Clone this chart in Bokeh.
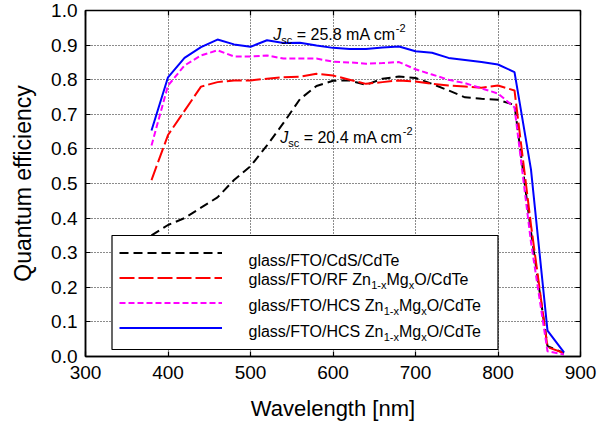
from bokeh.plotting import figure
from bokeh.models import (Range1d, FixedTicker, NumeralTickFormatter, LinearAxis,
                          Legend, LegendItem, Label, BoxAnnotation)
from bokeh.embed import file_html
from bokeh.resources import INLINE

# ---------------- data ----------------
wavelength = [380, 400, 420, 440, 460, 480, 500, 520, 540, 560, 580, 600, 620,
              640, 660, 680, 700, 720, 740, 760, 780, 800, 820, 840, 860, 880]

qe_cds = [0.35, 0.38, 0.40, 0.43, 0.46, 0.51, 0.55, 0.61, 0.675, 0.744, 0.782, 0.797, 0.798,
          0.785, 0.803, 0.809, 0.805, 0.788, 0.769, 0.749, 0.745, 0.742, 0.727, 0.36, 0.03, 0.01]

qe_rf = [0.51, 0.64, 0.71, 0.78, 0.793, 0.798, 0.798, 0.803, 0.807, 0.809, 0.817, 0.812, 0.80,
         0.788, 0.793, 0.798, 0.795, 0.788, 0.783, 0.780, 0.777, 0.783, 0.769, 0.38, 0.027, 0.01]

qe_hcs_a = [0.61, 0.783, 0.841, 0.87, 0.885, 0.867, 0.867, 0.87, 0.861, 0.861, 0.861, 0.852, 0.85,
            0.846, 0.848, 0.851, 0.83, 0.815, 0.80, 0.79, 0.775, 0.76, 0.72, 0.33, 0.015, 0.006]

qe_hcs_b = [0.653, 0.807, 0.863, 0.894, 0.916, 0.902, 0.895, 0.914, 0.906, 0.907, 0.899, 0.892, 0.889,
            0.889, 0.893, 0.896, 0.882, 0.878, 0.863, 0.857, 0.851, 0.844, 0.822, 0.54, 0.075, 0.012]

x_ticks = [300, 400, 500, 600, 700, 800, 900]
y_ticks = [0.0, 0.1, 0.2, 0.3, 0.4, 0.5, 0.6, 0.7, 0.8, 0.9, 1.0]

jsc_high = "25.8"
jsc_low = "20.4"

# legend labels as (text, kind) segments: n = normal, sub = subscript
legend_labels = [
    [("glass/FTO/CdS/CdTe", "n")],
    [("glass/FTO/RF Zn", "n"), ("1-x", "sub"), ("Mg", "n"), ("x", "sub"), ("O/CdTe", "n")],
    [("glass/FTO/HCS Zn", "n"), ("1-x", "sub"), ("Mg", "n"), ("x", "sub"), ("O/CdTe", "n")],
    [("glass/FTO/HCS Zn", "n"), ("1-x", "sub"), ("Mg", "n"), ("x", "sub"), ("O/CdTe", "n")],
]

FONT = "Liberation Sans"
X0, X1, Y0, Y1 = 300, 900, 0.0, 1.0
FW, FH = 495, 346

# Arial / Liberation Sans advance widths (per 1000 em)
W = {' ': 278, '/': 278, '-': 333, '.': 278, '=': 584,
     'a': 556, 'c': 500, 'd': 556, 'e': 556, 'g': 556, 'l': 222, 'm': 833, 'n': 556,
     's': 500, 'x': 500, 'A': 667, 'C': 722, 'D': 722, 'F': 611, 'H': 722, 'J': 500,
     'M': 833, 'O': 778, 'R': 722, 'S': 667, 'T': 611, 'Z': 611}
for d in "0123456789":
    W[d] = 556


def text_width(s, size):
    return sum(W.get(ch, 556) for ch in s) * size / 1000.0


def px_to_x(px):
    return X0 + px * (X1 - X0) / FW


def px_to_y(py):
    return Y0 + py * (Y1 - Y0) / FH


p = figure(frame_width=FW, frame_height=FH,
           x_range=Range1d(X0, X1), y_range=Range1d(Y0, Y1),
           output_backend="svg", toolbar_location=None,
           min_border_left=85, min_border_right=20, min_border_top=10, min_border_bottom=60)

p.background_fill_color = "white"
p.border_fill_color = "white"
p.outline_line_color = "black"
p.outline_line_width = 1.5

# axes
for ax in (p.xaxis[0], p.yaxis[0]):
    ax.major_tick_in = 5
    ax.major_tick_out = 0
    ax.minor_tick_line_color = None
    ax.axis_line_color = "black"
    ax.axis_line_width = 1.5
    ax.major_tick_line_color = "black"
    ax.major_tick_line_width = 1.2
    ax.major_label_text_font = FONT
    ax.major_label_text_font_size = "19px"
    ax.major_label_text_color = "black"
    ax.axis_label_text_font = FONT
    ax.axis_label_text_font_style = "normal"
    ax.axis_label_text_color = "black"

p.xaxis.axis_label_text_font_size = "22px"
p.yaxis.axis_label_text_font_size = "23px"
p.xaxis.ticker = FixedTicker(ticks=x_ticks)
p.yaxis.ticker = FixedTicker(ticks=y_ticks)
p.yaxis.formatter = NumeralTickFormatter(format="0.0")
p.xaxis.axis_label = "Wavelength [nm]"
p.yaxis.axis_label = "Quantum efficiency"
p.xaxis.major_label_standoff = 9
p.xaxis.axis_label_standoff = 14
p.yaxis.major_label_standoff = 8
p.yaxis.axis_label_standoff = 12

# top / right axes: ticks only
top = LinearAxis(ticker=FixedTicker(ticks=x_ticks), major_label_text_color=None,
                 major_label_text_font_size="0px", major_label_standoff=0,
                 major_tick_in=5, major_tick_out=0, minor_tick_line_color=None,
                 axis_line_color=None, major_tick_line_color="black", major_tick_line_width=1.2)
right = LinearAxis(ticker=FixedTicker(ticks=y_ticks), major_label_text_color=None,
                   major_label_text_font_size="0px", major_label_standoff=0,
                   major_tick_in=5, major_tick_out=0, minor_tick_line_color=None,
                   axis_line_color=None, major_tick_line_color="black", major_tick_line_width=1.2)
p.add_layout(top, "above")
p.add_layout(right, "right")

# grid
for g in (p.xgrid[0], p.ygrid[0]):
    g.grid_line_color = "black"
    g.grid_line_alpha = 0.9
    g.grid_line_dash = "1 2"
    g.grid_line_width = 1
p.xgrid.ticker = FixedTicker(ticks=x_ticks)
p.ygrid.ticker = FixedTicker(ticks=y_ticks)

# curves
r_cds = p.line(wavelength, qe_cds, line_color="black", line_width=2, line_dash="9 5")
r_rf = p.line(wavelength, qe_rf, line_color="#FF0000", line_width=2, line_dash="15 4")
r_a = p.line(wavelength, qe_hcs_a, line_color="#FF00FF", line_width=2, line_dash="6 3")
r_b = p.line(wavelength, qe_hcs_b, line_color="#0000FF", line_width=2)

# legend box (white panel), legend samples on top, texts on top
BOX_LEFT, BOX_BOTTOM = 26.5, 7
LEG_PAD, LEG_ROW, LEG_GLYPH, LEG_STANDOFF, LEG_LABELW = 7, 25, 103, 25, 244
LEG_SHIFT = 2   # legend rows nudged to line up with their texts
leg_w = 2 * LEG_PAD + LEG_GLYPH + LEG_STANDOFF + LEG_LABELW
leg_h = 2 * LEG_PAD + 4 * LEG_ROW
p.add_layout(BoxAnnotation(left=px_to_x(BOX_LEFT), right=px_to_x(BOX_LEFT + leg_w),
                           bottom=px_to_y(BOX_BOTTOM), top=px_to_y(BOX_BOTTOM + leg_h),
                           fill_color="white", fill_alpha=1.0,
                           line_color="black", line_width=1.2, line_alpha=1.0))

legend = Legend(items=[LegendItem(label=" ", renderers=[r]) for r in (r_cds, r_rf, r_a, r_b)],
                location=(BOX_LEFT, BOX_BOTTOM + LEG_SHIFT), padding=LEG_PAD, spacing=0, margin=0,
                label_height=LEG_ROW, glyph_height=LEG_ROW, glyph_width=LEG_GLYPH,
                label_standoff=LEG_STANDOFF, label_width=LEG_LABELW,
                label_text_font=FONT, label_text_font_size="16px",
                border_line_color="black", border_line_width=1.2, border_line_alpha=0.0,
                background_fill_color="white", background_fill_alpha=0.0)
p.add_layout(legend, "center")


def add_rich(segs, x, y, size, sub_size=11, sub_dy=-5, sup_dy=7):
    off = 0.0
    for txt, kind in segs:
        fs = size if kind in ("n", "i") else sub_size
        stripped = txt.lstrip(" ")
        off += text_width(txt[:len(txt) - len(stripped)], fs)
        dy = {"n": 0, "i": 0, "sub": sub_dy, "sup": sup_dy}[kind]
        p.add_layout(Label(x=x, y=y, x_offset=off, y_offset=dy, text=stripped,
                           text_font=FONT, text_font_size=f"{fs}px",
                           text_font_style="italic" if kind == "i" else "normal",
                           text_baseline="alphabetic", text_align="left",
                           text_color="black"))
        off += text_width(stripped, fs)


# legend texts (positions measured in pixels from the frame's bottom-left)
legend_text_left = 163
legend_baselines = [96.3, 77.0, 51.0, 24.7]
for segs, yb in zip(legend_labels, legend_baselines):
    add_rich(segs, px_to_x(legend_text_left), px_to_y(yb), 16)

# Jsc annotations
add_rich([("J", "i"), ("sc", "sub"), (f" = {jsc_high} mA cm", "n"), ("-2", "sup")],
         527.6, 0.93, 16)
add_rich([("J", "i"), ("sc", "sub"), (f" = {jsc_low} mA cm", "n"), ("-2", "sup")],
         536.0, 0.632, 16)

open("out.html", "w").write(file_html(p, INLINE))
